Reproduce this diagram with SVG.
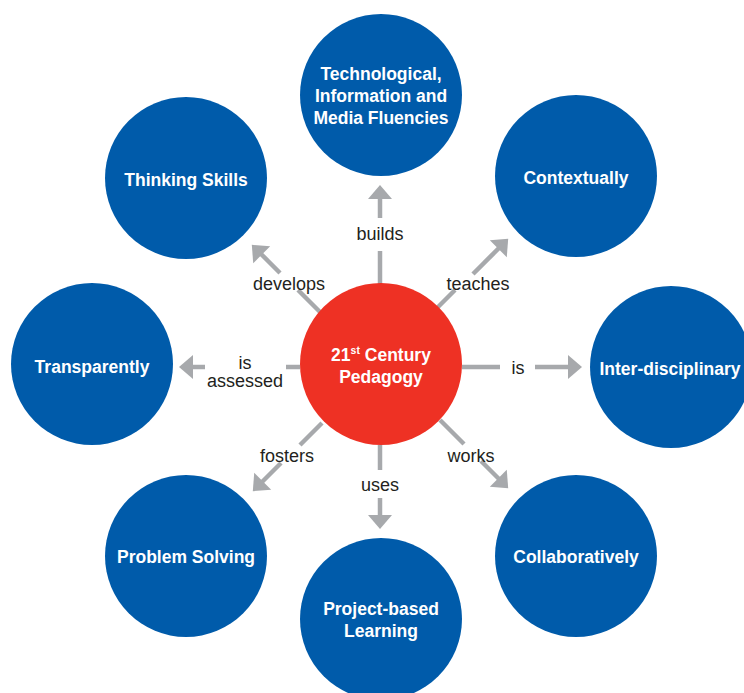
<svg xmlns="http://www.w3.org/2000/svg" width="744" height="693" viewBox="0 0 744 693">
<style>
.node{fill:#005baa}
.hub{fill:#ee3124}
.nt{font-family:"Liberation Sans",Arial,sans-serif;font-weight:bold;font-size:17.5px;fill:#ffffff;text-anchor:middle}
.ln{stroke:#a7a9ac;stroke-width:4.5;fill:none}
.lb{font-family:"Liberation Sans",Arial,sans-serif;font-size:18px;fill:#231f20;text-anchor:middle}
</style>
<defs>
<marker id="ah" markerUnits="userSpaceOnUse" markerWidth="16" markerHeight="26" refX="1" refY="12" orient="auto" overflow="visible">
<path d="M0,0 L14,12 L0,24 Z" fill="#a7a9ac"/>
</marker>
</defs>
<rect width="744" height="693" fill="#ffffff"/>
<g id="connectors">
<!-- builds -->
<line class="ln" x1="380" y1="284" x2="380" y2="251"/>
<line class="ln" x1="380" y1="218" x2="380" y2="198" marker-end="url(#ah)"/>
<text class="lb" x="380" y="240">builds</text>
<!-- uses -->
<line class="ln" x1="380" y1="445" x2="380" y2="470"/>
<line class="ln" x1="380" y1="498" x2="380" y2="516" marker-end="url(#ah)"/>
<text class="lb" x="380" y="491">uses</text>
<!-- is right -->
<line class="ln" x1="462" y1="367" x2="500" y2="367"/>
<line class="ln" x1="535" y1="367" x2="569" y2="367" marker-end="url(#ah)"/>
<text class="lb" x="518" y="374">is</text>
<!-- is assessed left -->
<line class="ln" x1="300" y1="367" x2="286" y2="367"/>
<line class="ln" x1="205" y1="367" x2="192" y2="367" marker-end="url(#ah)"/>
<text class="lb" x="245" y="369">is</text>
<text class="lb" x="245" y="387">assessed</text>
<!-- develops -->
<line class="ln" x1="322" y1="314" x2="298" y2="290"/>
<line class="ln" x1="280" y1="273" x2="261" y2="254" marker-end="url(#ah)"/>
<text class="lb" x="289" y="290">develops</text>
<!-- teaches -->
<line class="ln" x1="438" y1="307" x2="455" y2="290"/>
<line class="ln" x1="473" y1="274" x2="499" y2="248" marker-end="url(#ah)"/>
<text class="lb" x="478" y="290">teaches</text>
<!-- fosters -->
<line class="ln" x1="322" y1="423" x2="300" y2="445"/>
<line class="ln" x1="281" y1="463" x2="262" y2="482" marker-end="url(#ah)"/>
<text class="lb" x="287" y="462">fosters</text>
<!-- works -->
<line class="ln" x1="440" y1="420" x2="464" y2="444"/>
<line class="ln" x1="481" y1="461" x2="499" y2="479" marker-end="url(#ah)"/>
<text class="lb" x="471" y="462">works</text>
</g>
<g id="hub">
<circle class="hub" cx="381" cy="364" r="81"/>
<text class="nt" x="381" y="361">21<tspan font-size="10.5" dy="-7">st</tspan><tspan dy="7"> Century</tspan></text>
<text class="nt" x="381" y="383">Pedagogy</text>
</g>
<g id="node-tech">
<circle class="node" cx="381" cy="95" r="81"/>
<text class="nt" x="381" y="80">Technological,</text>
<text class="nt" x="381" y="102">Information and</text>
<text class="nt" x="381" y="124">Media Fluencies</text>
</g>
<g id="node-thinking">
<circle class="node" cx="186" cy="178" r="81"/>
<text class="nt" x="186" y="186">Thinking Skills</text>
</g>
<g id="node-context">
<circle class="node" cx="576" cy="176" r="81"/>
<text class="nt" x="576" y="184">Contextually</text>
</g>
<g id="node-transparently">
<circle class="node" cx="92" cy="364" r="81"/>
<text class="nt" x="92" y="373">Transparently</text>
</g>
<g id="node-interdisciplinary">
<circle class="node" cx="671" cy="367" r="81"/>
<text class="nt" x="670" y="375">Inter-disciplinary</text>
</g>
<g id="node-problem">
<circle class="node" cx="186" cy="556" r="81"/>
<text class="nt" x="186" y="563">Problem Solving</text>
</g>
<g id="node-project">
<circle class="node" cx="381" cy="619" r="81"/>
<text class="nt" x="381" y="615">Project-based</text>
<text class="nt" x="381" y="637">Learning</text>
</g>
<g id="node-collab">
<circle class="node" cx="576" cy="556" r="81"/>
<text class="nt" x="576" y="563">Collaboratively</text>
</g>
</svg>
